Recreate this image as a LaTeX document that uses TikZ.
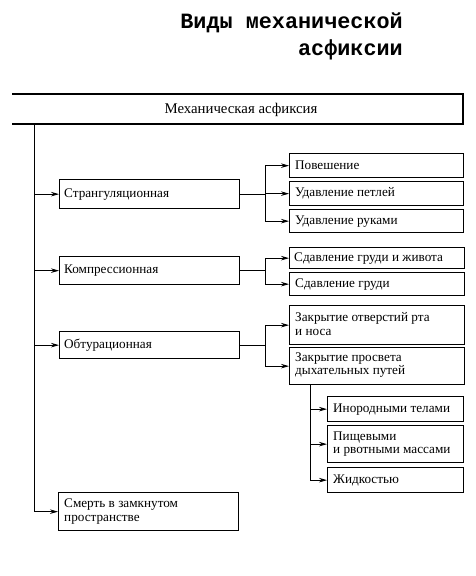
\documentclass[tikz,border=0pt]{standalone}
\usepackage{fontspec}
\setmainfont{Liberation Serif}
\newfontfamily\titlefont{Liberation Mono}
\usetikzlibrary{arrows.meta,positioning,calc}
\begin{document}
\begin{tikzpicture}[x=1pt,y=-1pt,
  box/.style={draw, line width=1.3pt, anchor=north west, inner sep=0pt},
  lbl/.style={anchor=west, inner sep=0pt, align=left, font=\fontsize{13.2}{13.5}\selectfont},
  ttl/.style={anchor=base east, inner sep=0pt, font=\titlefont\bfseries\fontsize{21.8}{22}\selectfont},
  conn/.style={line width=0.8pt},
  arr/.style={conn, -{Stealth[length=8pt,width=4.5pt]}},
  ]
\useasboundingbox (0,0) rectangle (475,576);
% title
\node[ttl] (t1) at (403,28) {Виды механической};
\node[ttl] (t2) at (403,55) {асфиксии};
% main box (open on the left)
\coordinate (mnw) at (12,94);
\coordinate (mse) at (463,124);
\draw[line width=1.3pt] (mnw) -- (mnw -| mse) -- (mse) -- (mse -| mnw);
\node[inner sep=0pt, font=\fontsize{14.8}{15}\selectfont] (main) at (241,110) {Механическая асфиксия};
% first level
\node[box, minimum width=180pt, minimum height=29pt] (strang) at (59,179) {};
\node[box, minimum width=180pt, minimum height=28pt] (komp) at (59,256) {};
\node[box, minimum width=180pt, minimum height=27pt] (obtur) at (59,331) {};
\node[box, minimum width=180pt, minimum height=38pt] (smert) at (58,492) {};
% second level
\node[box, minimum width=174pt, minimum height=24pt] (povesh) at (289,153) {};
\node[box, minimum width=174pt, minimum height=24pt] (petl) at (289,181) {};
\node[box, minimum width=174pt, minimum height=23pt] (ruki) at (289,209) {};
\node[box, minimum width=175pt, minimum height=21pt] (grudzh) at (289,247) {};
\node[box, minimum width=175pt, minimum height=23pt] (grud) at (289,272) {};
\node[box, minimum width=175pt, minimum height=39pt] (rot) at (289,305) {};
\node[box, minimum width=175pt, minimum height=37pt] (prosv) at (289,347) {};
% third level
\node[box, minimum width=136pt, minimum height=25pt] (inor) at (327,396) {};
\node[box, minimum width=136pt, minimum height=37pt] (pisch) at (327,425) {};
\node[box, minimum width=136pt, minimum height=25pt] (zhid) at (327,467) {};
% labels
\node[lbl] (lstrang) at ($(strang.west)+(5,0)$) {Странгуляционная};
\node[lbl] (lkomp) at ($(komp.west)+(5,0)$) {Компрессионная};
\node[lbl] (lobtur) at ($(obtur.west)+(5,0)$) {Обтурационная};
\node[lbl] (lsmert) at ($(smert.west)+(6,0)$) {Смерть в замкнутом\\пространстве};
\node[lbl] (lpovesh) at ($(povesh.west)+(6,0)$) {Повешение};
\node[lbl] (lpetl) at ($(petl.west)+(6,0)$) {Удавление петлей};
\node[lbl] (lruki) at ($(ruki.west)+(6,0)$) {Удавление руками};
\node[lbl] (lgrudzh) at ($(grudzh.west)+(5,0)$) {Сдавление груди и живота};
\node[lbl] (lgrud) at ($(grud.west)+(6,0)$) {Сдавление груди};
\node[lbl] (lrot) at ($(rot.west)+(6,-1)$) {Закрытие отверстий рта\\и носа};
\node[lbl] (lprosv) at ($(prosv.west)+(6,-1)$) {Закрытие просвета\\дыхательных путей};
\node[lbl] (linor) at ($(inor.west)+(6,0)$) {Инородными телами};
\node[lbl] (lpisch) at ($(pisch.west)+(6,0)$) {Пищевыми\\и рвотными массами};
\node[lbl] (lzhid) at ($(zhid.west)+(6,0)$) {Жидкостью};
% connectors
\coordinate (spine) at (34,124);
\draw[arr] (spine) |- (strang.west);
\draw[arr] (spine) |- (komp.west);
\draw[arr] (spine) |- (obtur.west);
\draw[arr] (spine) |- (smert.west);
\draw[arr] (strang.east) -- ++(25,0) |- (povesh.west);
\draw[arr] (strang.east) -- ++(25,0) |- (petl.west);
\draw[arr] (strang.east) -- ++(25,0) |- (ruki.west);
\draw[arr] (komp.east) -- ++(25,0) |- (grudzh.west);
\draw[arr] (komp.east) -- ++(25,0) |- (grud.west);
\draw[arr] (obtur.east) -- ++(25,0) |- (rot.west);
\draw[arr] (obtur.east) -- ++(25,0) |- (prosv.west);
\coordinate (pv) at (310,384);
\draw[arr] (pv) |- (inor.west);
\draw[arr] (pv) |- (pisch.west);
\draw[arr] (pv) |- (zhid.west);
\end{tikzpicture}
\end{document}
